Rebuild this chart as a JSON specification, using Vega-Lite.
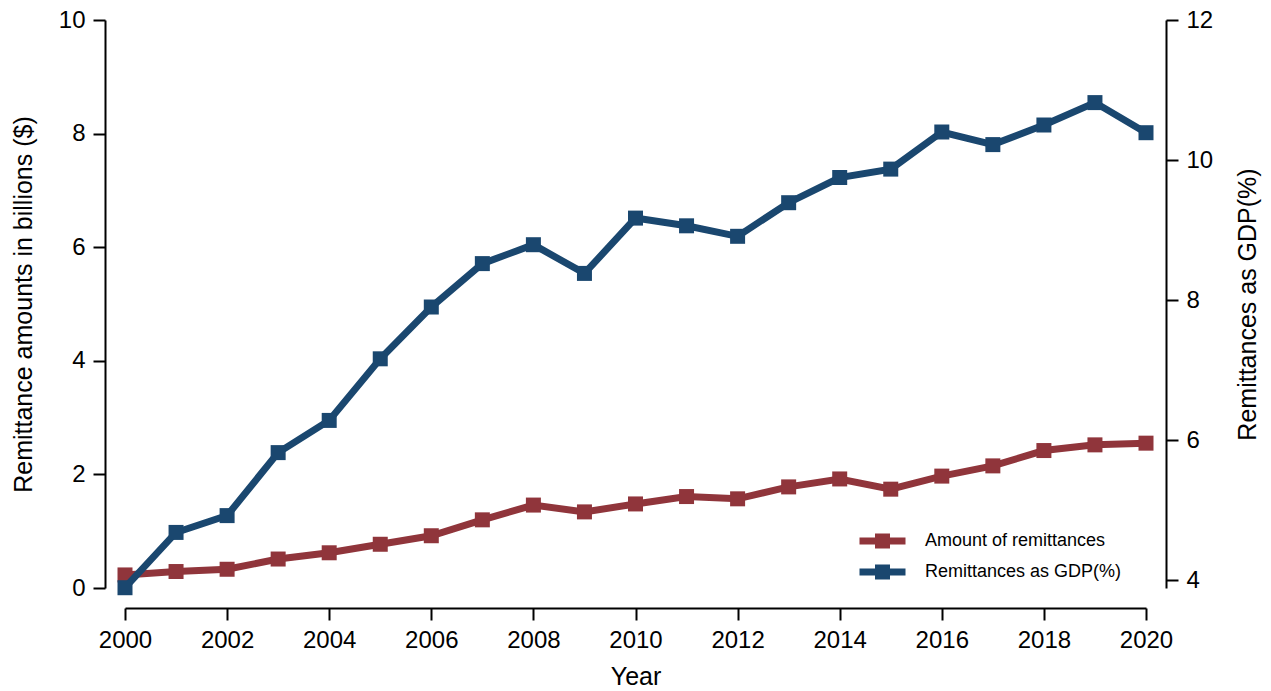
{
  "$schema": "https://vega.github.io/schema/vega-lite/v6.json",
  "width": 1021,
  "height": 568,
  "autosize": {"type": "none"},
  "padding": {"left": 125, "top": 20, "right": 125, "bottom": 103},
  "background": "white",
  "config": {
    "view": {"stroke": null},
    "font": "Liberation Sans",
    "axis": {
      "grid": false,
      "domainColor": "black",
      "domainWidth": 2,
      "tickColor": "black",
      "tickWidth": 2,
      "tickSize": 12,
      "labelFont": "Liberation Sans",
      "labelFontSize": 24,
      "labelColor": "black",
      "labelPadding": 8,
      "labelFlush": false,
      "titleFont": "Liberation Sans",
      "titleFontSize": 25,
      "titleFontWeight": "normal",
      "titleColor": "black",
      "offset": 20
    },
    "legend": {
      "orient": "none",
      "legendX": 748.5,
      "legendY": 512,
      "padding": 0,
      "rowPadding": 13,
      "labelFont": "Liberation Sans",
      "labelFontSize": 18,
      "labelColor": "black",
      "labelLimit": 0,
      "labelOffset": 33.5,
      "symbolSize": 225,
      "symbolStrokeWidth": 0,
      "symbolType": "M-3.067,-0.467H3.067V0.467H-3.067ZM-1,-1H1V1H-1Z"
    }
  },
  "data": {
    "values": [
      {"year": 2000, "series": "Amount of remittances", "value": 0.23},
      {"year": 2001, "series": "Amount of remittances", "value": 0.29},
      {"year": 2002, "series": "Amount of remittances", "value": 0.33},
      {"year": 2003, "series": "Amount of remittances", "value": 0.51},
      {"year": 2004, "series": "Amount of remittances", "value": 0.62},
      {"year": 2005, "series": "Amount of remittances", "value": 0.77},
      {"year": 2006, "series": "Amount of remittances", "value": 0.92},
      {"year": 2007, "series": "Amount of remittances", "value": 1.2},
      {"year": 2008, "series": "Amount of remittances", "value": 1.46},
      {"year": 2009, "series": "Amount of remittances", "value": 1.34},
      {"year": 2010, "series": "Amount of remittances", "value": 1.48},
      {"year": 2011, "series": "Amount of remittances", "value": 1.61},
      {"year": 2012, "series": "Amount of remittances", "value": 1.57},
      {"year": 2013, "series": "Amount of remittances", "value": 1.78},
      {"year": 2014, "series": "Amount of remittances", "value": 1.92},
      {"year": 2015, "series": "Amount of remittances", "value": 1.74},
      {"year": 2016, "series": "Amount of remittances", "value": 1.97},
      {"year": 2017, "series": "Amount of remittances", "value": 2.15},
      {"year": 2018, "series": "Amount of remittances", "value": 2.42},
      {"year": 2019, "series": "Amount of remittances", "value": 2.52},
      {"year": 2020, "series": "Amount of remittances", "value": 2.55},
      {"year": 2000, "series": "Remittances as GDP(%)", "value": 3.89},
      {"year": 2001, "series": "Remittances as GDP(%)", "value": 4.68},
      {"year": 2002, "series": "Remittances as GDP(%)", "value": 4.92},
      {"year": 2003, "series": "Remittances as GDP(%)", "value": 5.82},
      {"year": 2004, "series": "Remittances as GDP(%)", "value": 6.28},
      {"year": 2005, "series": "Remittances as GDP(%)", "value": 7.16},
      {"year": 2006, "series": "Remittances as GDP(%)", "value": 7.9},
      {"year": 2007, "series": "Remittances as GDP(%)", "value": 8.52},
      {"year": 2008, "series": "Remittances as GDP(%)", "value": 8.79},
      {"year": 2009, "series": "Remittances as GDP(%)", "value": 8.38},
      {"year": 2010, "series": "Remittances as GDP(%)", "value": 9.17},
      {"year": 2011, "series": "Remittances as GDP(%)", "value": 9.06},
      {"year": 2012, "series": "Remittances as GDP(%)", "value": 8.91},
      {"year": 2013, "series": "Remittances as GDP(%)", "value": 9.39},
      {"year": 2014, "series": "Remittances as GDP(%)", "value": 9.75},
      {"year": 2015, "series": "Remittances as GDP(%)", "value": 9.87},
      {"year": 2016, "series": "Remittances as GDP(%)", "value": 10.4},
      {"year": 2017, "series": "Remittances as GDP(%)", "value": 10.22},
      {"year": 2018, "series": "Remittances as GDP(%)", "value": 10.5},
      {"year": 2019, "series": "Remittances as GDP(%)", "value": 10.82},
      {"year": 2020, "series": "Remittances as GDP(%)", "value": 10.39}
    ]
  },
  "encoding": {
    "x": {
      "field": "year",
      "type": "quantitative",
      "scale": {"domain": [2000, 2020], "nice": false, "zero": false},
      "axis": {
        "title": "Year",
        "values": [2000, 2002, 2004, 2006, 2008, 2010, 2012, 2014, 2016, 2018, 2020],
        "format": "d",
        "titlePadding": 12
      }
    }
  },
  "layer": [
    {
      "transform": [{"filter": "datum.series === 'Amount of remittances'"}],
      "mark": {"type": "line", "strokeWidth": 7, "point": {"shape": "square", "size": 225, "filled": true, "opacity": 1}},
      "encoding": {
        "y": {
          "field": "value",
          "type": "quantitative",
          "scale": {"domain": [0, 10], "nice": false, "zero": false},
          "axis": {"title": "Remittance amounts in billions ($)", "values": [0, 2, 4, 6, 8, 10], "titlePadding": 22}
        },
        "color": {
          "field": "series",
          "type": "nominal",
          "scale": {"domain": ["Amount of remittances", "Remittances as GDP(%)"], "range": ["#90353B", "#1A476F"]},
          "legend": {
            "title": null,
            "encode": {"symbols": {"update": {"fill": {"scale": "color", "field": "value"}, "strokeWidth": {"value": 0}, "opacity": {"value": 1}}}}
          }
        }
      }
    },
    {
      "transform": [{"filter": "datum.series === 'Remittances as GDP(%)'"}],
      "mark": {"type": "line", "strokeWidth": 7, "point": {"shape": "square", "size": 225, "filled": true, "opacity": 1}},
      "encoding": {
        "y": {
          "field": "value",
          "type": "quantitative",
          "scale": {"domain": [3.886, 12], "nice": false, "zero": false},
          "axis": {"orient": "right", "title": "Remittances as GDP(%)", "values": [4, 6, 8, 10, 12], "titleAngle": -90, "titlePadding": 48}
        },
        "color": {
          "field": "series",
          "type": "nominal",
          "scale": {"domain": ["Amount of remittances", "Remittances as GDP(%)"], "range": ["#90353B", "#1A476F"]},
          "legend": {
            "title": null,
            "encode": {"symbols": {"update": {"fill": {"scale": "color", "field": "value"}, "strokeWidth": {"value": 0}, "opacity": {"value": 1}}}}
          }
        }
      }
    }
  ],
  "resolve": {"scale": {"y": "independent"}}
}
